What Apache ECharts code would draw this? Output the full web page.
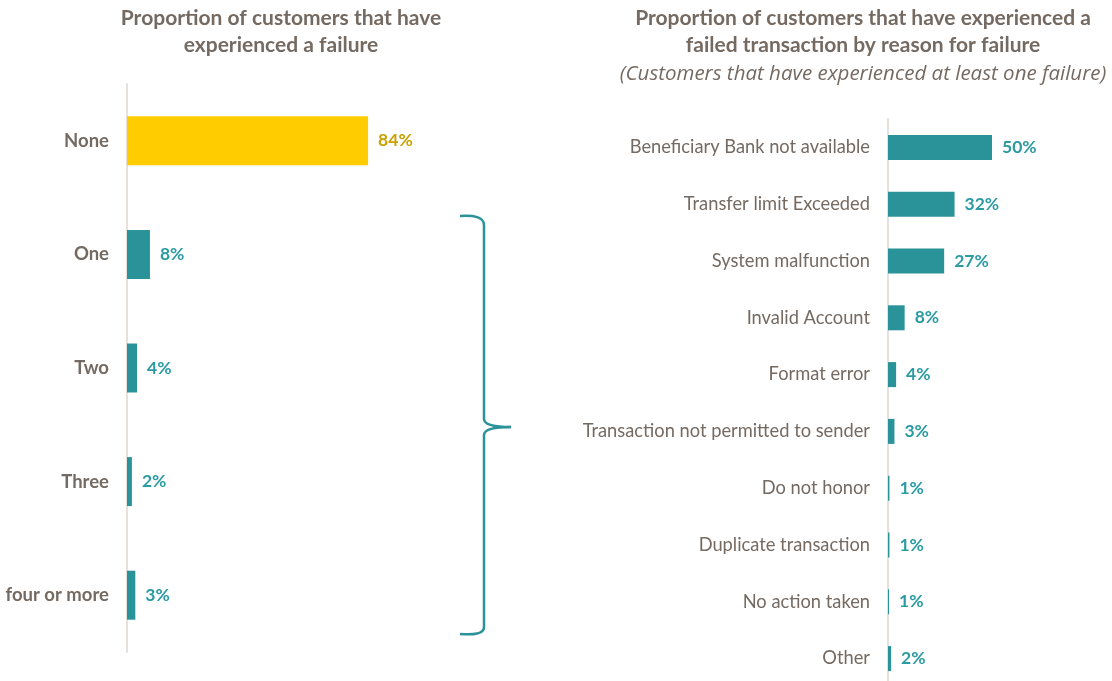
<!DOCTYPE html>
<html>
<head>
<meta charset="utf-8">
<script src="https://cdn.jsdelivr.net/npm/echarts@6/dist/echarts.min.js"></script>
<style>
  html, body { margin: 0; padding: 0; background: #fff; }
  #chart { width: 1112px; height: 681px; }
</style>
</head>
<body>
<div id="chart"></div>
<script>
// left chart: number of failures
var countCats = ['None', 'One', 'Two', 'Three', 'four or more'];
var countVals = [84, 8, 3.5, 1.7, 2.9];

// right chart: reason for failure
var reasonCats = ['Beneficiary Bank not available', 'Transfer limit Exceeded', 'System malfunction',
  'Invalid Account', 'Format error', 'Transaction not permitted to sender', 'Do not honor',
  'Duplicate transaction', 'No action taken', 'Other'];
var reasonVals = [50, 32, 27, 8, 3.9, 3.1, 0.7, 0.7, 0.5, 1.5];

var teal = '#2a939a';
var tealText = '#2b9ba3';
var gold = '#ffcc00';
var goldText = '#c9a100';
var grey = '#756a62';
var font = 'Lato';

var myChart = echarts.init(document.getElementById('chart'));

function pct(p) { return Math.round(p.value) + '%'; }

// brace pieces
var braceStyle = { stroke: teal, lineWidth: 2.5, fill: 'none' };
function curve(x1, y1, c1x, c1y, c2x, c2y, x2, y2) {
  return { type: 'bezierCurve', shape: { x1: x1, y1: y1, cpx1: c1x, cpy1: c1y, cpx2: c2x, cpy2: c2y, x2: x2, y2: y2 }, style: braceStyle };
}
function seg(x1, y1, x2, y2) {
  return { type: 'line', shape: { x1: x1, y1: y1, x2: x2, y2: y2 }, style: braceStyle };
}

myChart.setOption({
  animation: false,
  textStyle: { fontFamily: font },
  title: [
    {
      text: 'Proportion of customers that have\nexperienced a failure',
      left: 276, top: 0, textAlign: 'center',
      textStyle: { fontFamily: font, fontSize: 21, fontWeight: 'bold', color: grey, lineHeight: 27 }
    },
    {
      text: 'Proportion of customers that have experienced a\nfailed transaction by reason for failure',
      subtext: '(Customers that have experienced at least one failure)',
      left: 858, top: 0, textAlign: 'center', itemGap: 2,
      textStyle: { fontFamily: font, fontSize: 21, fontWeight: 'bold', color: grey, lineHeight: 27 },
      subtextStyle: { fontFamily: 'Open Sans', fontSize: 20.5, fontStyle: 'italic', color: grey, lineHeight: 27 }
    }
  ],
  grid: [
    { left: 127, top: 84, width: 287, height: 568, outerBoundsMode: 'none' },
    { left: 888, top: 119, width: 208, height: 568, outerBoundsMode: 'none' }
  ],
  xAxis: [
    { gridIndex: 0, type: 'value', min: 0, max: 100, show: false },
    { gridIndex: 1, type: 'value', min: 0, max: 100, show: false }
  ],
  yAxis: [
    {
      gridIndex: 0, type: 'category', inverse: true, data: countCats,
      axisLine: { lineStyle: { color: '#e6e1dd', width: 2 } },
      axisTick: { show: false },
      axisLabel: { margin: 18, fontFamily: font, fontSize: 18.5, fontWeight: 'bold', color: grey }
    },
    {
      gridIndex: 1, type: 'category', inverse: true, data: reasonCats,
      axisLine: { lineStyle: { color: '#e6e1dd', width: 2 } },
      axisTick: { show: false },
      axisLabel: { margin: 18, fontFamily: font, fontSize: 18.3, color: grey }
    }
  ],
  series: [
    {
      type: 'bar', xAxisIndex: 0, yAxisIndex: 0, barWidth: 49,
      data: countVals.map(function (v, i) {
        return {
          value: v,
          itemStyle: { color: i === 0 ? gold : teal },
          label: { color: i === 0 ? goldText : tealText }
        };
      }),
      label: {
        show: true, position: 'right', distance: 10, formatter: pct,
        fontFamily: font, fontSize: 17.5, fontWeight: 'bold'
      }
    },
    {
      type: 'bar', xAxisIndex: 1, yAxisIndex: 1, barWidth: 25,
      data: reasonVals,
      itemStyle: { color: teal },
      label: {
        show: true, position: 'right', distance: 10, formatter: pct,
        fontFamily: font, fontSize: 17.5, fontWeight: 'bold', color: tealText
      }
    }
  ],
  graphic: [
    // curly brace grouping the "at least one failure" rows
    curve(460, 216, 474, 215, 484, 217, 484, 225),
    seg(484, 225, 484, 419),
    curve(484, 419, 484, 424, 492, 427, 511, 427),
    curve(511, 427, 492, 427, 484, 430, 484, 435),
    seg(484, 435, 484, 627),
    curve(484, 627, 484, 634, 474, 635, 460, 634)
  ]
});

window.addEventListener('resize', function () { myChart.resize(); });
</script>
</body>
</html>
